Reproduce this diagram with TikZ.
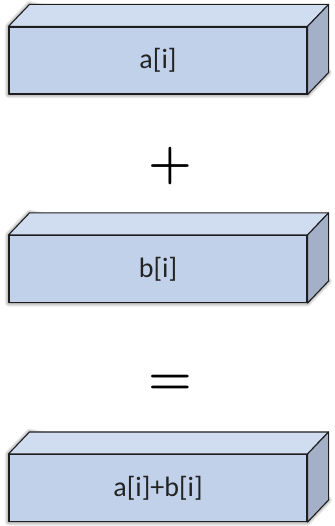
\documentclass[tikz,border=0pt]{standalone}
\usepackage{fontspec}
\setmainfont{Carlito}
\newfontfamily\lmfont{Latin Modern Roman}
\usetikzlibrary{backgrounds}
\definecolor{frontc}{RGB}{193,209,233}
\definecolor{topc}{RGB}{208,221,241}
\definecolor{sidec}{RGB}{163,176,199}
\definecolor{edgec}{RGB}{30,30,30}
\definecolor{txtc}{RGB}{35,35,35}
\begin{document}
\begin{tikzpicture}[x=1pt,y=-1pt,
  frontbox/.style={draw=edgec, fill=frontc, line width=1.1pt, line join=round,
    minimum width=298pt, minimum height=67pt, inner sep=0pt,
    font=\fontsize{28}{30}\selectfont, text=txtc},
  topface/.style={draw=edgec, fill=topc, line width=1.1pt, line join=round},
  sideface/.style={draw=edgec, fill=sidec, line width=1.1pt, line join=round},
  shadowlayer/.style={fill=black, draw=black, opacity=0.08, line join=round},
  opsign/.style={font=\lmfont\bfseries\fontsize{50}{50}\selectfont, text=black, inner sep=0pt}]
\useasboundingbox (0,0) rectangle (334,526);

\node[frontbox] (A) at (158,60.5) {a[i]};
\node[frontbox] (B) at (158,269) {b[i]};
\node[frontbox] (C) at (158,488) {a[i]+b[i]};

\node[opsign] (plus) at (170,166) {+};
\node[opsign] (eq) at (170,384.5) {=};

\foreach \n in {A,B,C}{
  \draw[topface] (\n.north west) -- ++(21,-22) -- ([shift={(21,-22)}]\n.north east) -- (\n.north east) -- cycle;
  \draw[sideface] (\n.north east) -- ++(21,-22) -- ([shift={(21,-22)}]\n.south east) -- (\n.south east) -- cycle;
  \begin{scope}[on background layer]
    \foreach \w in {7,5,3,1}{
      \path[shadowlayer, line width=\w pt, shift={(2,4)}]
        (\n.south west) -- (\n.north west) -- ++(21,-22)
        -- ([shift={(21,-22)}]\n.south east) -- (\n.south east) -- cycle;
    }
  \end{scope}
}
\end{tikzpicture}
\end{document}
